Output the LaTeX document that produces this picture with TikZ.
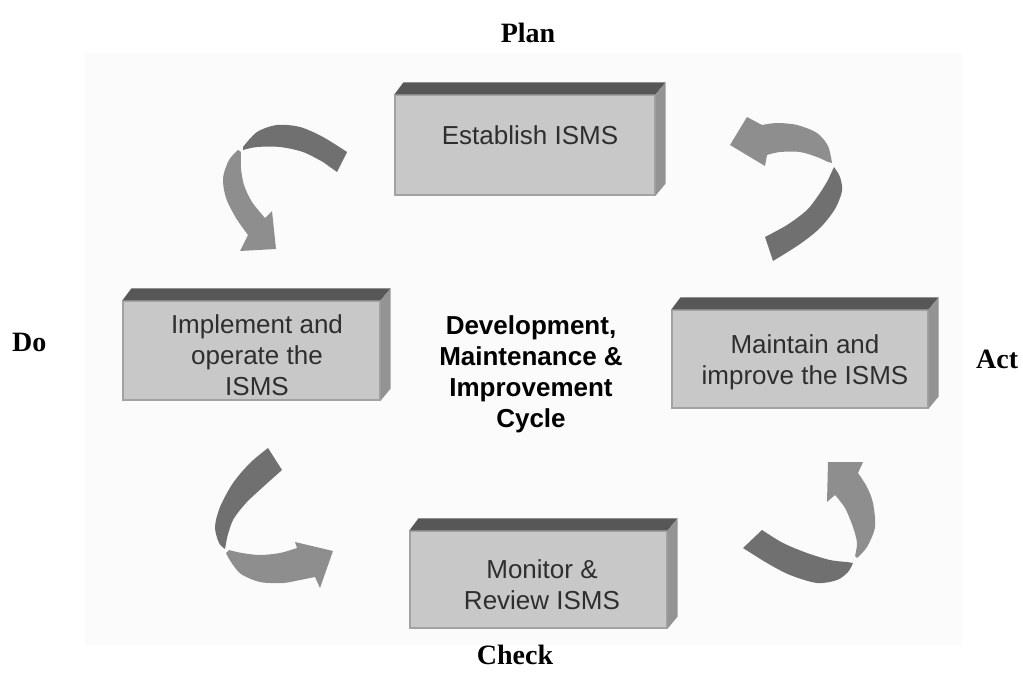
\documentclass[tikz,border=0pt]{standalone}
\usepackage{fontspec}
\setmainfont{Liberation Serif}
\newfontfamily\arialf{Liberation Sans}
\definecolor{bgcol}{HTML}{FBFBFB}
\definecolor{boxfrontcol}{HTML}{C8C8C8}
\definecolor{boxedgecol}{HTML}{A2A2A2}
\definecolor{boxtopcol}{HTML}{575757}
\definecolor{boxsidecol}{HTML}{939393}
\definecolor{boxtextcol}{HTML}{2E2E2E}
\definecolor{arrdarkcol}{HTML}{707070}
\definecolor{arrlightcol}{HTML}{8E8E8E}
\tikzset{
  boxface/.style={fill=boxfrontcol, draw=boxedgecol, line width=1.2pt, inner sep=0pt},
  boxlabel/.style={text=boxtextcol, font=\arialf\fontsize{26}{31}\selectfont, align=center, inner sep=0pt},
  centerlabel/.style={text=black, font=\arialf\bfseries\fontsize{26}{31}\selectfont, align=center, inner sep=0pt},
  phaselbl/.style={text=black, font=\bfseries\fontsize{28}{33}\selectfont, inner sep=0pt},
  topface/.style={fill=boxtopcol},
  sideface/.style={fill=boxsidecol},
  darkpart/.style={fill=arrdarkcol},
  lightpart/.style={fill=arrlightcol}
}
\begin{document}
\begin{tikzpicture}[x=1pt,y=-1pt]
\useasboundingbox (0,0) rectangle (1023,687);
\fill[bgcol] (85,53) rectangle (962,645);

% boxes (front faces)
\node[boxface, minimum width=260pt, minimum height=100pt] (est) at (525,145) {};
\node[boxface, minimum width=257pt, minimum height=99pt] (imp) at (251.5,350.5) {};
\node[boxface, minimum width=256pt, minimum height=98pt] (mai) at (800,359) {};
\node[boxface, minimum width=257pt, minimum height=97pt] (mon) at (538.5,579.5) {};

% 3D top and side faces
\foreach \n in {est,imp,mai,mon}{
  \fill[topface] (\n.north west) -- ++(9,-12) -- ([shift={(10,-12)}]\n.north east) -- (\n.north east) -- cycle;
  \fill[sideface] (\n.north east) -- ++(10,-12) -- ([shift={(10,-12)}]\n.south east) -- (\n.south east) -- cycle;
}

% box texts
\node[boxlabel] (est-t) at (530,135) {Establish ISMS};
\node[boxlabel] (imp-t) at (257,355) {Implement and\\operate the\\ISMS};
\node[boxlabel] (mai-t) at (805,362) {Maintain and\\improve the ISMS};
\node[boxlabel] (mon-t) at (542,585) {Monitor \&\\Review ISMS};

% centre text
\node[centerlabel] (cyc) at (531,374) {Development,\\Maintenance \&\\Improvement\\Cycle};

% phase labels
\node[phaselbl, anchor=base] (plan) at (528,43) {Plan};
\node[phaselbl, anchor=base west] (do) at (12,351) {Do};
\node[phaselbl, anchor=base west] (act) at (976,368) {Act};
\node[phaselbl, anchor=base] (check) at (515,664) {Check};

% arrow: Plan -> Do (top left)
\fill[darkpart] plot[smooth] coordinates {(243,147) (257,132) (277,125) (300,127) (323,137) (347,152)}
  -- (337,172) -- plot[smooth] coordinates {(323,162) (303,152) (280,147) (257,147) (243,150)} -- cycle;
\fill[lightpart] plot[smooth] coordinates {(238,150) (229,160) (223,178) (226,198) (236,218) (248,235)}
  -- (240,251) -- (276,249) -- (272,211)
  -- plot[smooth] coordinates {(265,218) (252,202) (244,185) (241,168) (241,152)} -- cycle;

% arrow: Act -> Plan (top right)
\fill[darkpart] plot[smooth] coordinates {(773,261) (800,244) (820,228) (835,209) (842,191) (840,177) (834,167)}
  -- plot[smooth] coordinates {(828,180) (820,193) (807,210) (787,225) (765,237)} -- cycle;
\fill[lightpart] plot[smooth] coordinates {(832,163) (828,146) (817,133) (797,125) (777,123) (762,125)}
  -- (747,117) -- (730,145) -- (765,166)
  -- plot[smooth] coordinates {(767,155) (780,152) (800,152) (817,157) (828,162)} -- cycle;

% arrow: Do -> Check (bottom left)
\fill[darkpart] plot[smooth] coordinates {(268,448) (250,463) (233,483) (220,507) (215,527) (219,543) (225,549)}
  -- plot[smooth] coordinates {(227,538) (233,520) (246,503) (263,487) (282,470)} -- cycle;
\fill[lightpart] plot[smooth] coordinates {(226,553) (231,562) (241,574) (260,582) (283,583) (300,580) (315,577)}
  -- (320,588) -- (333,551) -- (295,542)
  -- plot[smooth] coordinates {(297,548) (280,553) (260,555) (242,553) (229,550)} -- cycle;

% arrow: Check -> Act (bottom right)
\fill[darkpart] plot[smooth] coordinates {(743,548) (767,563) (790,575) (817,583) (837,580) (848,572) (853,563)}
  -- plot[smooth] coordinates {(847,562) (830,560) (807,553) (783,543) (762,530)} -- cycle;
\fill[lightpart] plot[smooth] coordinates {(857,558) (867,547) (875,527) (873,503) (867,487) (858,473)}
  -- (863,462) -- (828,462) -- (827,502)
  -- plot[smooth] coordinates {(835,495) (845,508) (853,527) (857,543) (855,556)} -- cycle;
\end{tikzpicture}
\end{document}
